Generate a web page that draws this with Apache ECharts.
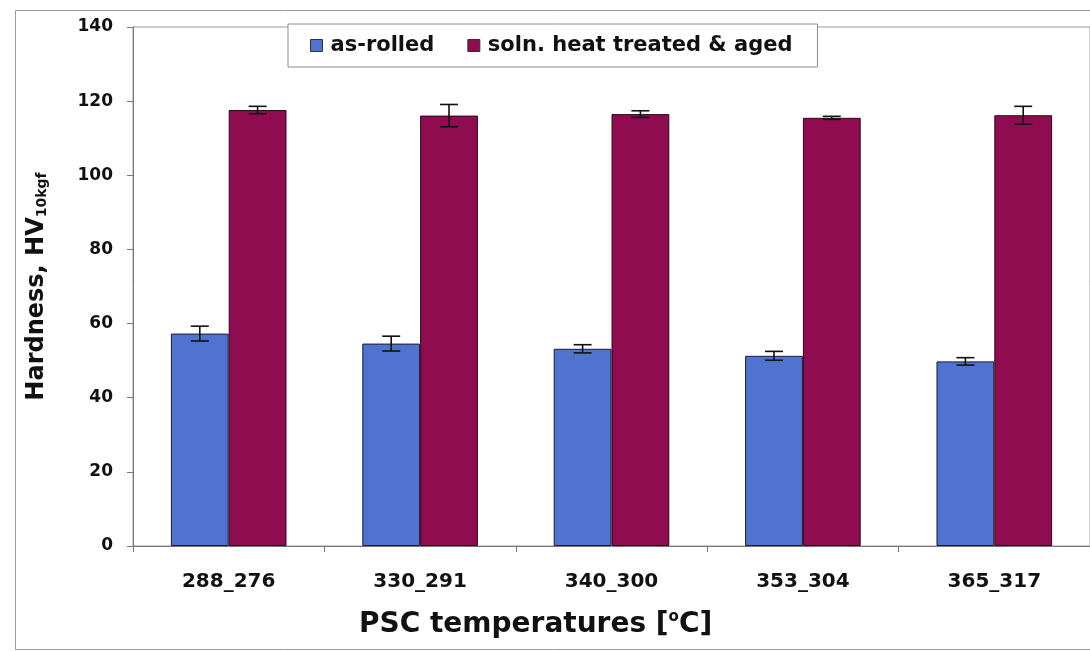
<!DOCTYPE html>
<html>
<head>
<meta charset="utf-8">
<style>
  html, body { margin: 0; padding: 0; background: #ffffff; }
  #chart { width: 1090px; height: 651px; }
</style>
<script src="https://cdn.jsdelivr.net/npm/echarts@6/dist/echarts.min.js"></script>
</head>
<body>
<div id="chart"></div>
<script>
// PSC temperature pairs (rolling_finishing) and hardness results
const categories = ['288_276', '330_291', '340_300', '353_304', '365_317'];
const seriesNames = ['as-rolled', 'soln. heat treated & aged'];
const asRolled = [57.3, 54.6, 53.2, 51.3, 49.8];
const asRolledErr = [2.0, 2.0, 1.1, 1.2, 1.0];
const aged = [117.6, 116.1, 116.5, 115.5, 116.2];
const agedErr = [1.0, 3.0, 0.9, 0.4, 2.4];
const yTicks = { min: 0, max: 140, interval: 20 };

const FONT = 'DejaVu Sans';
const BLUE = '#4f73cf';
const PLUM = '#8e0c4f';
const GAP = 0.396; // barCategoryGap as a fraction

// Builds the error-bar data: [categoryIndex, value, error]
function errData(vals, errs) {
  return vals.map((v, i) => [i, v, errs[i]]);
}

// Draws a whisker with caps, shifted onto the matching bar of the group
function errorBar(side) {
  return function (params, api) {
    const i = api.value(0);
    const v = api.value(1);
    const e = api.value(2);
    const band = api.size([1, 0])[0];
    const bw = band * (1 - GAP) / 2;
    const dx = side * bw / 2;
    const top = api.coord([i, v + e]);
    const bot = api.coord([i, v - e]);
    const x = top[0] + dx;
    const cap = 9;
    const style = { stroke: '#111', lineWidth: 1.6 };
    return {
      type: 'group',
      children: [
        { type: 'line', shape: { x1: x, y1: top[1], x2: x, y2: bot[1] }, style },
        { type: 'line', shape: { x1: x - cap, y1: top[1], x2: x + cap, y2: top[1] }, style },
        { type: 'line', shape: { x1: x - cap, y1: bot[1], x2: x + cap, y2: bot[1] }, style }
      ]
    };
  };
}

const chart = echarts.init(document.getElementById('chart'), null, { renderer: 'canvas' });

chart.setOption({
  animation: false,
  backgroundColor: '#ffffff',
  textStyle: { fontFamily: FONT },
  graphic: [
    {
      type: 'rect',
      left: 13, top: 8,
      shape: { width: 1100, height: 639 },
      style: { fill: 'none', stroke: '#9a9a9a', lineWidth: 1 },
      z: -10
    }
  ],
  title: {
    text: '{t|PSC temperatures [}{s|o}{t|C]}',
    left: 354,
    top: 605,
    textStyle: {
      rich: {
        t: { fontFamily: FONT, fontWeight: 'bold', fontSize: 28, color: '#111' },
        s: { fontFamily: FONT, fontWeight: 'bold', fontSize: 15, color: '#111', verticalAlign: 'top', padding: [0, 0, 14, 0] }
      }
    }
  },
  legend: {
    data: seriesNames,
    left: 288,
    top: 24,
    orient: 'horizontal',
    icon: 'rect',
    itemWidth: 12,
    itemHeight: 12,
    itemGap: 33,
    padding: [11, 25, 11, 22],
    borderColor: '#8a8a8a',
    borderWidth: 1,
    backgroundColor: '#ffffff',
    itemStyle: { borderColor: '#333', borderWidth: 1 },
    textStyle: { fontFamily: FONT, fontWeight: 'bold', fontSize: 21, color: '#111', padding: [0, 0, 0, 3] }
  },
  grid: {
    left: 133,
    right: -4,
    top: 27,
    bottom: 105,
    show: true,
    borderColor: '#9a9a9a',
    borderWidth: 1,
    backgroundColor: '#ffffff',
    containLabel: false
  },
  xAxis: {
    type: 'category',
    data: categories,
    axisLine: { lineStyle: { color: '#777', width: 1 } },
    axisTick: { show: true, alignWithLabel: false, length: 6, lineStyle: { color: '#777' } },
    axisLabel: {
      fontFamily: FONT, fontWeight: 'bold', fontSize: 20, color: '#111', margin: 26
    },
    splitLine: { show: false }
  },
  yAxis: {
    type: 'value',
    min: yTicks.min,
    max: yTicks.max,
    interval: yTicks.interval,
    axisLine: { show: true, lineStyle: { color: '#777', width: 1 } },
    axisTick: { show: true, length: 6, lineStyle: { color: '#777' } },
    axisLabel: {
      fontFamily: FONT, fontWeight: 'bold', fontSize: 17, color: '#111', margin: 20
    },
    splitLine: { show: false },
    name: '{t|Hardness, HV}{s|10kgf}',
    nameLocation: 'middle',
    nameRotate: 90,
    nameGap: 84,
    nameTextStyle: {
      rich: {
        t: { fontFamily: FONT, fontWeight: 'bold', fontSize: 24, color: '#111' },
        s: { fontFamily: FONT, fontWeight: 'bold', fontSize: 14, color: '#111', verticalAlign: 'bottom', padding: [8, 0, 0, 0] }
      }
    }
  },
  series: [
    {
      name: seriesNames[0],
      type: 'bar',
      data: asRolled,
      barGap: '0%',
      barCategoryGap: (GAP * 100) + '%',
      itemStyle: { color: BLUE, borderColor: '#1a1a3a', borderWidth: 1 },
      z: 2
    },
    {
      name: seriesNames[1],
      type: 'bar',
      data: aged,
      barGap: '0%',
      barCategoryGap: (GAP * 100) + '%',
      itemStyle: { color: PLUM, borderColor: '#2a0a18', borderWidth: 1 },
      z: 2
    },
    {
      name: 'as-rolled error',
      type: 'custom',
      data: errData(asRolled, asRolledErr),
      renderItem: errorBar(-1),
      encode: { x: 0, y: 1 },
      z: 5,
      silent: true
    },
    {
      name: 'aged error',
      type: 'custom',
      data: errData(aged, agedErr),
      renderItem: errorBar(1),
      encode: { x: 0, y: 1 },
      z: 5,
      silent: true
    }
  ]
});
</script>
</body>
</html>
